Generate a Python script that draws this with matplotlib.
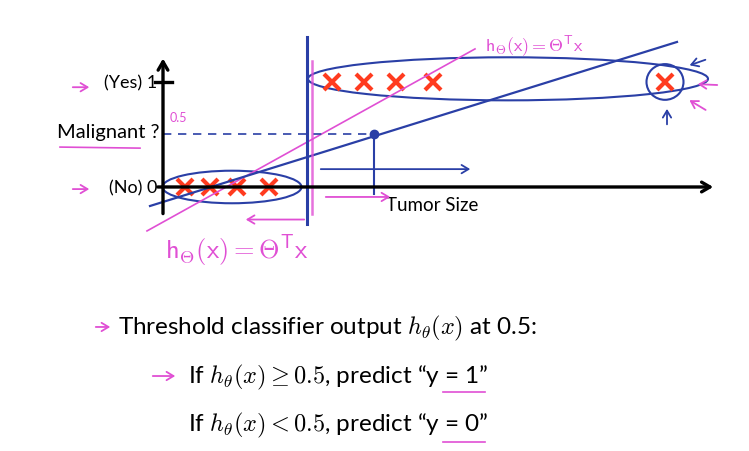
import matplotlib.pyplot as plt
import numpy as np
from matplotlib.patches import Ellipse

plt.rcParams['font.family'] = ['Lato', 'DejaVu Sans']
plt.rcParams['mathtext.fontset'] = 'cm'

# 数据: tumor size vs malignant (0/1)
size_no = [0.44, 0.94, 1.48, 2.12]
size_yes = [3.38, 4.02, 4.66, 5.40]
size_outlier = [10.04]
label_no = [0, 0, 0, 0]
label_yes = [1, 1, 1, 1]
label_outlier = [1]

# 手画的两条假设直线 h(x) = b + m * x
pink_fit = (-0.334, 0.2642)   # before the outlier
blue_fit = (-0.1425, 0.1482)  # after the outlier
pink_range = [-0.32, 6.24]
blue_range = [-0.26, 10.28]
threshold = 0.5
threshold_x = 2.88

red = '#ff3b1f'
blue = '#2a3fa6'
pink = '#e04fd4'

fig = plt.figure(figsize=(7.49, 4.52), dpi=100)
ax = fig.add_axes([0, 0, 1, 1])
ax.set_xlim(-3.26, 11.72)
ax.set_ylim(-2.514, 1.790)
ax.axis('off')

# 坐标轴 (arrows)
ax.annotate('', xy=(0, 1.25), xytext=(0, -0.28),
            arrowprops=dict(arrowstyle='->,head_length=0.6,head_width=0.35', lw=2.4, color='black'))
ax.annotate('', xy=(11.06, 0), xytext=(-0.16, 0),
            arrowprops=dict(arrowstyle='->,head_length=0.6,head_width=0.35', lw=2.4, color='black'))
ax.plot([-0.16, 0.18], [1, 1], color='black', lw=2.4)

ax.text(-0.12, 1, '(Yes) 1', ha='right', va='center', fontsize=13)
ax.text(-0.12, 0, '(No) 0', ha='right', va='center', fontsize=13)
ax.text(-0.06, 0.53, 'Malignant ?', ha='right', va='center', fontsize=14.5)
ax.text(4.46, -0.17, 'Tumor Size', ha='left', va='center', fontsize=13.5)

# 数据点
ax.plot(size_no, label_no, 'x', color=red, ms=11, mew=3)
ax.plot(size_yes, label_yes, 'x', color=red, ms=11, mew=3)
ax.plot(size_outlier, label_outlier, 'x', color=red, ms=11, mew=3)

# 假设直线
xs = np.array(pink_range)
ax.plot(xs, pink_fit[0] + pink_fit[1] * xs, color=pink, lw=1.2)
xs = np.array(blue_range)
ax.plot(xs, blue_fit[0] + blue_fit[1] * xs, color=blue, lw=1.6)

# threshold at 0.5
cross_x = (threshold - blue_fit[0]) / blue_fit[1] - 0.12
ax.plot([0, cross_x], [threshold, threshold], color=blue, lw=1.2, ls=(0, (5, 4)))
ax.plot(cross_x, threshold, 'o', color=blue, ms=6)
ax.plot([cross_x, cross_x], [threshold, -0.07], color=blue, lw=1.5)
ax.plot([threshold_x, threshold_x], [1.43, -0.35], color=blue, lw=2.2)
ax.plot([threshold_x + 0.1, threshold_x + 0.1], [1.2, -0.26], color=pink, lw=1.8, alpha=0.8)
ax.text(0.14, 0.63, '0.5', color=pink, fontsize=9)

# 手画的圈
ax.add_patch(Ellipse((1.38, 0), 2.78, 0.31, fill=False, ec=blue, lw=1.5))
ax.add_patch(Ellipse((6.9, 1.03), 8.0, 0.41, fill=False, ec=blue, lw=1.5))
ax.add_patch(Ellipse((10.04, 1.0), 0.74, 0.34, fill=False, ec=blue, lw=1.5))

# 手画的箭头
def arrow(x0, y0, x1, y1, color, lw=1.3):
    ax.annotate('', xy=(x1, y1), xytext=(x0, y0),
                arrowprops=dict(arrowstyle='->,head_length=0.5,head_width=0.3', lw=lw, color=color))

arrow(3.1, 0.17, 6.2, 0.17, blue)
arrow(3.2, -0.095, 4.6, -0.095, pink)
arrow(2.88, -0.31, 1.6, -0.31, pink)
arrow(10.9, 1.22, 10.48, 1.15, blue)
arrow(11.14, 0.97, 10.64, 0.98, pink)
arrow(10.9, 0.72, 10.48, 0.84, pink)
arrow(10.08, 0.57, 10.08, 0.77, blue)
arrow(-1.86, 0.95, -1.42, 0.95, pink)
arrow(-1.86, -0.02, -1.42, -0.02, pink)
ax.plot([-2.06, -0.46], [0.38, 0.37], color=pink, lw=1.2)

ax.text(0.04, -0.6, r'$\mathsf{h_\Theta(x) = \Theta^T x}$', color=pink, fontsize=19, va='center')
ax.text(6.44, 1.35, r'$\mathsf{h_\Theta(x) = \Theta^T x}$', color=pink, fontsize=13, va='center')

# 下面的文字
arrow(-1.4, -1.333, -1.0, -1.333, pink)
ax.text(-0.9, -1.333, r'Threshold classifier output $h_\theta(x)$ at 0.5:',
        fontsize=17.5, va='center')
arrow(-0.26, -1.8, 0.3, -1.8, pink)
ax.text(0.5, -1.8, r'If $h_\theta(x) \geq 0.5$, predict “y = 1”', fontsize=17.5, va='center')
ax.text(0.5, -2.257, r'If $h_\theta(x) < 0.5$, predict “y = 0”', fontsize=17.5, va='center')
ax.plot([5.6, 6.44], [-1.952, -1.952], color=pink, lw=1.2)
ax.plot([5.6, 6.44], [-2.43, -2.43], color=pink, lw=1.2)

fig.savefig('out.png', dpi=100)
